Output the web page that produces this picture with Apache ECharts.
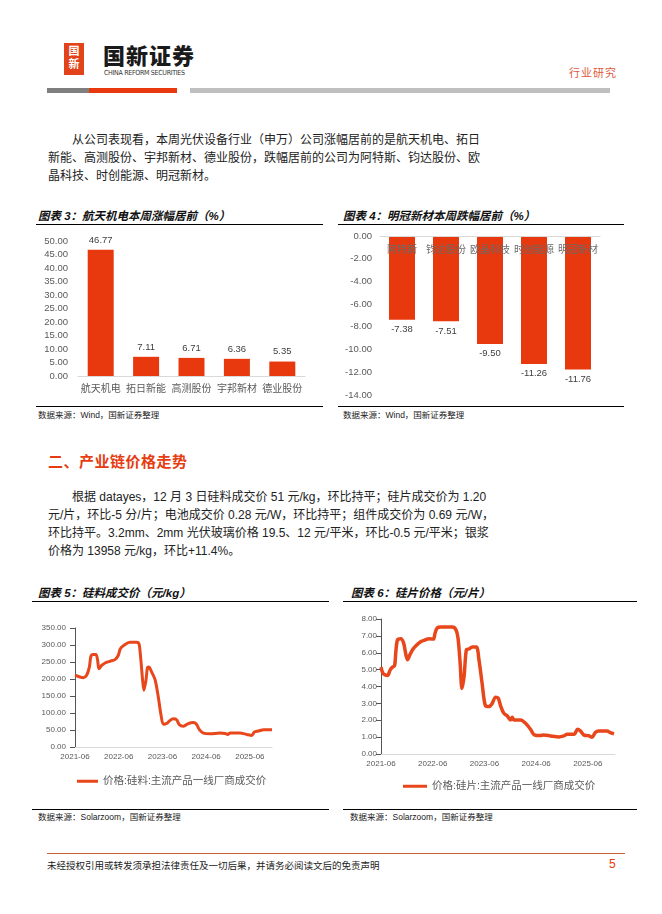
<!DOCTYPE html>
<html>
<head>
<meta charset="utf-8">
<script src="https://cdn.jsdelivr.net/npm/echarts@6/dist/echarts.min.js"></script>
<style>
  html, body { margin: 0; padding: 0; background: #fff; }
  #page { position: relative; width: 662px; height: 914px; overflow: hidden; background: #fff;
          font-family: "Liberation Sans", "Noto Sans CJK SC", sans-serif; color: #222; }
  .abs { position: absolute; white-space: nowrap; }
  .ln { position: absolute; font-size: 12px; line-height: 18px; height: 18px; color: #222; white-space: nowrap; }
  .ttl { position: absolute; font-size: 11.5px; font-weight: bold; font-style: italic; color: #111; white-space: nowrap; line-height: 14px; }
  .src { position: absolute; font-size: 8.5px; color: #222; white-space: nowrap; line-height: 12px; }
  .hr { position: absolute; height: 1px; background: #000; }
  #chart { position: absolute; left: 0; top: 0; width: 662px; height: 914px; }
</style>
</head>
<body>
<div id="page">
  <!-- header -->
  <div class="abs" style="left:64px;top:43px;width:20px;height:32px;background:#e2431b;"></div>
  <div class="abs" style="left:64px;top:45px;width:20px;font-size:11px;line-height:13px;color:#fff;font-weight:bold;text-align:center;white-space:normal;">国<br>新</div>
  <div class="abs" style="left:103px;top:44px;font-size:22px;line-height:26px;font-weight:900;color:#1a1a1a;letter-spacing:1px;">国新证券</div>
  <div class="abs" style="left:104px;top:69px;font-size:7px;line-height:8px;color:#333;font-family:'DejaVu Sans Condensed','Liberation Sans',sans-serif;letter-spacing:-0.3px;">CHINA REFORM SECURITIES</div>
  <div class="abs" style="left:569px;top:66px;font-size:11px;line-height:14px;color:#dd5a3c;letter-spacing:1px;">行业研究</div>
  <div class="abs" style="left:47px;top:88px;width:42px;height:5px;background:#7f7f7f;"></div>
  <div class="abs" style="left:89px;top:88px;width:88px;height:5px;background:#e8380d;"></div>
  <div class="abs" style="left:190px;top:88px;width:420px;height:5px;background:#bfbfbf;"></div>

  <!-- paragraph 1 -->
  <div class="ln" style="left:72px;top:131px;">从公司表现看，本周光伏设备行业（申万）公司涨幅居前的是航天机电、拓日</div>
  <div class="ln" style="left:48px;top:149px;">新能、高测股份、宇邦新材、德业股份，跌幅居前的公司为阿特斯、钧达股份、欧</div>
  <div class="ln" style="left:48px;top:167px;">晶科技、时创能源、明冠新材。</div>

  <!-- chart 3/4 titles -->
  <div class="ttl" style="left:38px;top:209px;">图表 3：航天机电本周涨幅居前（%）</div>
  <div class="hr" style="left:36px;top:224px;width:287px;"></div>
  <div class="ttl" style="left:343px;top:209px;">图表 4：明冠新材本周跌幅居前（%）</div>
  <div class="hr" style="left:338px;top:224px;width:286px;"></div>
  <div class="hr" style="left:36px;top:406px;width:287px;"></div>
  <div class="src" style="left:38px;top:409px;">数据来源：Wind，国新证券整理</div>
  <div class="hr" style="left:338px;top:406px;width:286px;"></div>
  <div class="src" style="left:343px;top:409px;">数据来源：Wind，国新证券整理</div>

  <!-- section heading -->
  <div class="abs" style="left:48px;top:453px;font-size:15px;line-height:18px;font-weight:bold;color:#e63c12;letter-spacing:0.5px;">二、产业链价格走势</div>

  <!-- paragraph 2 -->
  <div class="ln" style="left:72px;top:488px;">根据 datayes，12 月 3 日硅料成交价 51 元/kg，环比持平；硅片成交价为 1.20</div>
  <div class="ln" style="left:48px;top:506px;">元/片，环比-5 分/片；电池成交价 0.28 元/W，环比持平；组件成交价为 0.69 元/W，</div>
  <div class="ln" style="left:48px;top:524px;">环比持平。3.2mm、2mm 光伏玻璃价格 19.5、12 元/平米，环比-0.5 元/平米；银浆</div>
  <div class="ln" style="left:48px;top:542px;">价格为 13958 元/kg，环比+11.4%。</div>

  <!-- chart 5/6 titles -->
  <div class="ttl" style="left:38px;top:586px;">图表 5：硅料成交价（元/kg）</div>
  <div class="hr" style="left:32px;top:601px;width:297px;"></div>
  <div class="ttl" style="left:351px;top:586px;">图表 6：硅片价格（元/片）</div>
  <div class="hr" style="left:343px;top:601px;width:294px;"></div>
  <div class="hr" style="left:32px;top:809px;width:297px;"></div>
  <div class="src" style="left:38px;top:811px;">数据来源：Solarzoom，国新证券整理</div>
  <div class="hr" style="left:343px;top:809px;width:294px;"></div>
  <div class="src" style="left:350px;top:811px;">数据来源：Solarzoom，国新证券整理</div>

  <!-- footer -->
  <div class="abs" style="left:47px;top:853px;width:578px;height:1px;background:#c6602e;"></div>
  <div class="abs" style="left:47px;top:859px;font-size:9.5px;line-height:13px;color:#222;">未经授权引用或转发须承担法律责任及一切后果，并请务必阅读文后的免责声明</div>
  <div class="abs" style="left:609px;top:857px;font-size:12px;line-height:15px;color:#e8380d;">5</div>

  <div id="chart"></div>
</div>
<script>
// ---------- data ----------
const cats3 = ['航天机电', '拓日新能', '高测股份', '宇邦新材', '德业股份'];
const vals3 = [46.77, 7.11, 6.71, 6.36, 5.35];

const cats4 = ['阿特斯', '钧达股份', '欧晶科技', '时创能源', '明冠新材'];
const vals4 = [-7.38, -7.51, -9.50, -11.26, -11.76];

const dates5 = ['2021-06-02','2021-07-11','2021-08-09','2021-09-06','2021-09-29','2021-10-12','2021-11-01','2021-11-23','2021-12-07','2021-12-18',
  '2022-01-10','2022-02-07','2022-03-18','2022-05-01','2022-05-28','2022-06-15','2022-07-21','2022-09-03','2022-10-28','2022-11-17',
  '2022-12-01','2022-12-18','2022-12-29','2023-01-15','2023-01-27','2023-02-07','2023-03-03','2023-04-01','2023-04-28','2023-05-19',
  '2023-06-09','2023-07-06','2023-08-03','2023-09-01','2023-09-28','2023-10-20','2023-11-24','2024-01-04','2024-02-15','2024-03-12',
  '2024-04-05','2024-05-09','2024-07-03','2024-09-25','2024-11-06','2024-11-28','2024-12-18','2025-03-10','2025-05-05','2025-06-16',
  '2025-07-09','2025-08-12','2025-09-24','2025-11-18','2025-12-03'];
const vals5 = [211,206,204,211,235,267,272,272,255,230,
  240,247,252,257,269,289,301,308,308,304,
  265,196,167,196,233,235,221,198,147,98,
  67,69,78,83,80,66,61,69,72,67,
  51,41,39,41,40,37,41,41,37,34,
  44,47,51,51,51];

const dates6 = ['2021-06-01','2021-06-12','2021-06-28','2021-07-17','2021-08-05','2021-08-21','2021-09-05','2021-09-14','2021-09-26','2021-10-19',
  '2021-11-08','2021-11-24','2021-12-05','2021-12-22','2022-01-10','2022-02-03','2022-03-08','2022-04-12','2022-05-06','2022-06-06',
  '2022-06-18','2022-07-03','2022-07-27','2022-10-18','2022-11-12','2022-11-27','2022-12-12','2022-12-25','2023-01-09','2023-01-25',
  '2023-02-12','2023-03-07','2023-04-06','2023-04-24','2023-05-16','2023-06-09','2023-07-03','2023-07-25','2023-08-19','2023-09-07',
  '2023-09-24','2023-10-16','2023-11-09','2023-12-03','2023-12-15','2023-12-27','2024-02-12','2024-03-18','2024-04-22','2024-05-19',
  '2024-07-01','2024-07-24','2024-09-12','2024-11-09','2024-12-13','2025-01-06','2025-02-24','2025-03-21','2025-04-09','2025-05-07',
  '2025-06-06','2025-07-01','2025-07-24','2025-08-16','2025-10-15','2025-11-06','2025-12-03'];
const vals6 = [5.15,4.83,4.69,4.65,4.99,5.15,5.23,6.08,6.77,6.83,
  6.57,5.88,5.58,5.88,6.18,6.42,6.65,6.77,6.83,6.81,
  7.17,7.47,7.52,7.52,7.37,6.87,5.39,3.88,4.60,6.18,
  6.22,6.34,6.34,5.58,4.20,2.85,2.81,2.97,3.37,3.31,
  2.85,2.42,2.26,2.02,2.18,2.02,2.02,1.82,1.47,1.13,
  1.09,1.13,1.07,1.01,1.07,1.17,1.17,1.47,1.37,1.11,
  1.09,0.99,1.27,1.37,1.37,1.27,1.20];

const name5 = '价格:硅料:主流产品一线厂商成交价';
const name6 = '价格:硅片:主流产品一线厂商成交价';

// ---------- chart ----------
const ts = s => +new Date(s + 'T00:00:00Z');
const YEAR_MS = 365.25 * 86400000;
const FONT = '"Liberation Sans", "Noto Sans CJK SC", sans-serif';
const RED = '#e8380d';
const LINE_RED = '#e8461b';
const GRAY = '#595959';
const AXIS = '#d9d9d9';

const fmt2 = v => v.toFixed(2);
const fmtMonth = v => { const d = new Date(v + 43200000); return d.getUTCFullYear() + '-' + String(d.getUTCMonth() + 1).padStart(2, '0'); };

const dateAxis = (gi, maxDate) => ({
  type: 'value', gridIndex: gi, min: ts('2021-06-01'), max: ts(maxDate), interval: YEAR_MS,
  axisLine: { show: true, onZero: false, lineStyle: { color: AXIS } },
  axisTick: { show: false },
  splitLine: { show: false },
  axisLabel: { formatter: fmtMonth, fontSize: 8, color: GRAY, fontFamily: FONT, margin: 6, showMaxLabel: false, showMinLabel: true }
});

const chart = echarts.init(document.getElementById('chart'), null, { renderer: 'canvas' });
chart.setOption({
  animation: false,
  backgroundColor: 'transparent',
  textStyle: { fontFamily: FONT },
  grid: [
    { left: 78, top: 241, width: 227, height: 135 },
    { left: 380, top: 236, width: 220, height: 159 },
    { left: 75, top: 628, width: 197, height: 119 },
    { left: 381, top: 619, width: 234, height: 135 }
  ],
  legend: [
    { data: [name5], left: 72, top: 771, icon: 'rect', itemWidth: 21, itemHeight: 3,
      textStyle: { fontSize: 10.5, color: GRAY, fontFamily: FONT } },
    { data: [name6], left: 398, top: 776, icon: 'rect', itemWidth: 24, itemHeight: 3,
      textStyle: { fontSize: 10.5, color: GRAY, fontFamily: FONT } }
  ],
  xAxis: [
    { type: 'category', gridIndex: 0, data: cats3,
      axisLine: { lineStyle: { color: AXIS } }, axisTick: { show: false },
      axisLabel: { fontSize: 10, color: GRAY, margin: 8, interval: 0 } },
    { type: 'category', gridIndex: 1, data: cats4, position: 'top', z: 10,
      axisLine: { onZero: false, lineStyle: { color: AXIS } }, axisTick: { show: false },
      axisLabel: { inside: true, fontSize: 10, color: '#6b6b6b', margin: 9, interval: 0 } },
    dateAxis(2, '2025-12-03'),
    dateAxis(3, '2025-12-10')
  ],
  yAxis: [
    { type: 'value', gridIndex: 0, min: 0, max: 50, interval: 5, splitLine: { show: false },
      axisLabel: { formatter: fmt2, fontSize: 9.5, color: GRAY, margin: 10 } },
    { type: 'value', gridIndex: 1, min: -14, max: 0, interval: 2, splitLine: { show: false },
      axisLabel: { formatter: fmt2, fontSize: 9.5, color: GRAY, margin: 8 } },
    { type: 'value', gridIndex: 2, min: 0, max: 350, interval: 50, splitLine: { show: false },
      axisLabel: { formatter: fmt2, fontSize: 8, color: GRAY, margin: 9 } },
    { type: 'value', gridIndex: 3, min: 0, max: 8, interval: 1, splitLine: { show: false },
      axisLabel: { formatter: fmt2, fontSize: 8, color: GRAY, margin: 4 } }
  ],
  series: [
    { type: 'bar', xAxisIndex: 0, yAxisIndex: 0, data: vals3, barWidth: 26,
      itemStyle: { color: RED },
      label: { show: true, position: 'top', formatter: p => p.value.toFixed(2), fontSize: 9.5, color: '#404040', distance: 5 } },
    { type: 'bar', xAxisIndex: 1, yAxisIndex: 1, data: vals4, barWidth: 26,
      itemStyle: { color: RED },
      label: { show: true, position: 'bottom', formatter: p => p.value.toFixed(2), fontSize: 9.5, color: '#404040', distance: 5 } },
    { type: 'line', name: name5, xAxisIndex: 2, yAxisIndex: 2,
      data: dates5.map((d, i) => [ts(d), vals5[i]]),
      smooth: 0.3, showSymbol: false, symbol: 'none',
      lineStyle: { width: 3, color: LINE_RED }, itemStyle: { color: LINE_RED } },
    { type: 'line', name: name6, xAxisIndex: 3, yAxisIndex: 3,
      data: dates6.map((d, i) => [ts(d), vals6[i]]),
      smooth: 0.3, showSymbol: false, symbol: 'none',
      lineStyle: { width: 3.5, color: LINE_RED }, itemStyle: { color: LINE_RED } }
  ]
});
</script>
</body>
</html>
